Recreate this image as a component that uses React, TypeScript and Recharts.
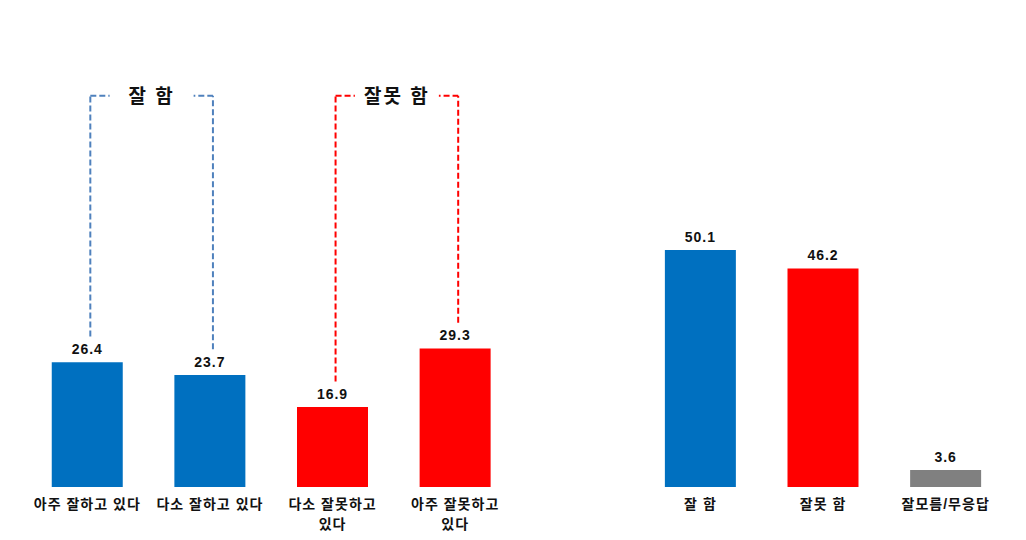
import React from "react"
import { BarChart, Bar, XAxis, YAxis, Cell, LabelList, ReferenceLine } from "recharts"

const categories = [
  "아주 잘하고 있다",
  "다소 잘하고 있다",
  "다소 잘못하고 있다",
  "아주 잘못하고 있다",
  "",
  "잘 함",
  "잘못 함",
  "잘모름/무응답",
]
const values: (number | null)[] = [26.4, 23.7, 16.9, 29.3, null, 50.1, 46.2, 3.6]
const barColors = ["#0070C0", "#0070C0", "#FF0000", "#FF0000", "#FFFFFF", "#0070C0", "#FF0000", "#808080"]

// bracket groups: [left category, right category, title]
const groups = [
  { left: 0, right: 1, title: "잘 함", color: "#4F81BD" },
  { left: 2, right: 3, title: "잘못 함", color: "#FF0000" },
]
const bracketTop = 82.7

const data = categories.map((name, i) => ({ name, value: values[i] }))

const FONT = "'Liberation Sans', 'Noto Sans CJK KR', sans-serif"

function wrapLabel(text: string): string[] {
  if (text.length <= 9) return [text]
  const cut = text.lastIndexOf(" ")
  return [text.slice(0, cut), text.slice(cut + 1)]
}

function CategoryTick(props: any) {
  const { x, y, payload } = props
  const lines = wrapLabel(payload.value || "")
  return (
    <g>
      {lines.map((line, i) => (
        <text
          key={i}
          x={x}
          y={y + 14 + i * 20}
          textAnchor="middle"
          fontFamily={FONT}
          fontSize={14}
          fontWeight="bold"
          fill="#111"
          letterSpacing={1}
        >
          {line}
        </text>
      ))}
    </g>
  )
}

function BracketTitle(props: any, title: string) {
  const { viewBox } = props
  const cx = viewBox.x + viewBox.width / 2 + 3
  const cy = viewBox.y
  return (
    <g>
      <rect x={cx - 42} y={cy - 12} width={84} height={24} fill="#fff" />
      <text
        x={cx}
        y={cy + 7}
        textAnchor="middle"
        fontFamily={FONT}
        fontSize={19}
        fontWeight="bold"
        fill="#111"
        letterSpacing={2}
      >
        {title}
      </text>
    </g>
  )
}

const shiftedLine = (props: any) => (
  <line
    x1={props.x1 + 3}
    y1={props.y1}
    x2={props.x2 + 3}
    y2={props.y2}
    stroke={props.stroke}
    strokeWidth={2}
    strokeDasharray="6 3"
  />
)

export default function App() {
  return (
    <BarChart
      width={1010}
      height={524}
      data={data}
      margin={{ top: 6, right: 11, bottom: 0, left: 18 }}
      barCategoryGap="21%"
    >
      <XAxis
        dataKey="name"
        axisLine={false}
        tickLine={false}
        interval={0}
        height={45}
        tick={<CategoryTick />}
      />
      <YAxis hide domain={[0, 100]} />
      <Bar dataKey="value" isAnimationActive={false}>
        {data.map((_, i) => (
          <Cell key={`cell-${i}`} fill={barColors[i]} />
        ))}
        <LabelList
          dataKey="value"
          position="top"
          offset={8}
          fontFamily={FONT}
          fontSize={14}
          fontWeight="bold"
          fill="#111"
          letterSpacing={1}
        />
      </Bar>
      {groups.map((g) => [
        <ReferenceLine
          key={`${g.title}-l`}
          segment={[
            { x: categories[g.left], y: (values[g.left] as number) + 5.4 },
            { x: categories[g.left], y: bracketTop },
          ]}
          stroke={g.color}
          shape={shiftedLine}
        />,
        <ReferenceLine
          key={`${g.title}-r`}
          segment={[
            { x: categories[g.right], y: (values[g.right] as number) + 5.4 },
            { x: categories[g.right], y: bracketTop },
          ]}
          stroke={g.color}
          shape={shiftedLine}
        />,
        <ReferenceLine
          key={`${g.title}-t`}
          segment={[
            { x: categories[g.left], y: bracketTop },
            { x: categories[g.right], y: bracketTop },
          ]}
          stroke={g.color}
          shape={shiftedLine}
          label={(p: any) => BracketTitle(p, g.title)}
        />,
      ])}
    </BarChart>
  )
}
